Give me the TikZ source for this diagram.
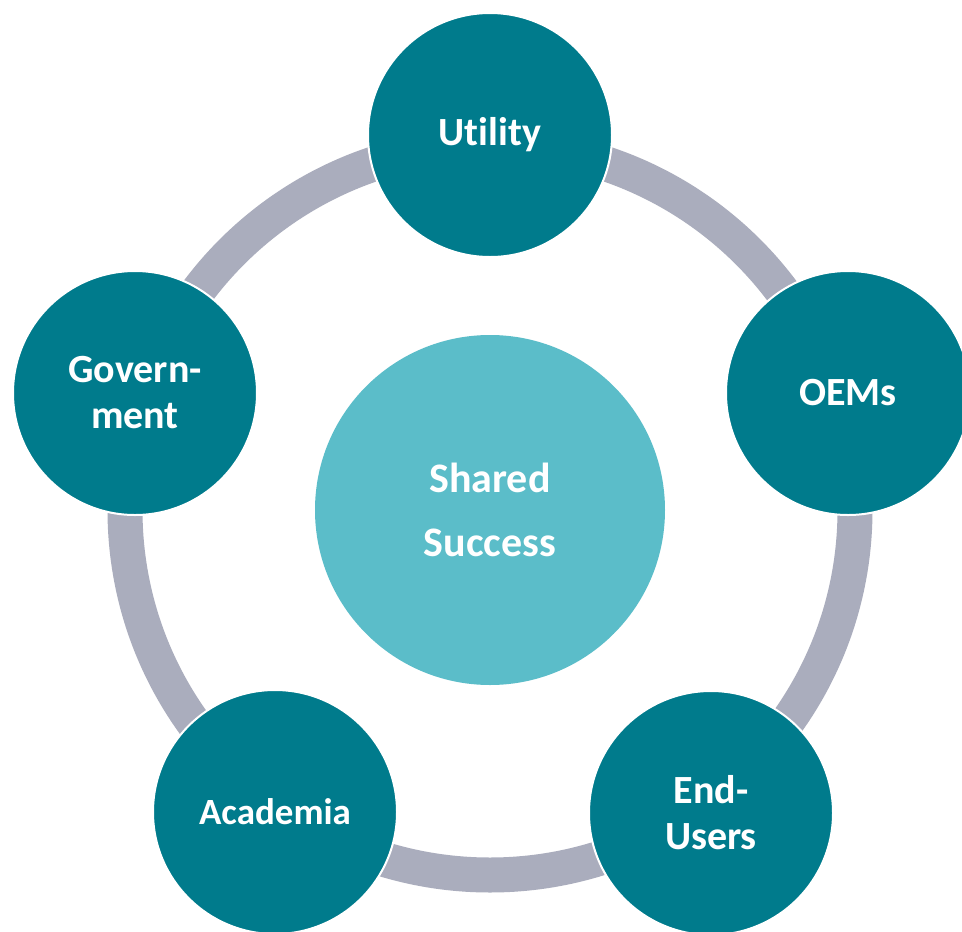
\documentclass[tikz,border=0pt]{standalone}
\usepackage{fontspec}
\setmainfont{Carlito}[Ligatures={NoCommon}]
\definecolor{tealdark}{RGB}{0,123,140}
\definecolor{tealpale}{RGB}{91,189,201}
\definecolor{ringgray}{RGB}{170,173,189}
\tikzset{
  outer/.style={circle, fill=tealdark, draw=white, line width=2pt, minimum size=244pt,
    inner sep=0pt, text=white, align=center, font=\bfseries\fontsize{40}{46}\selectfont},
  hub/.style={circle, fill=tealpale, minimum size=350pt, inner sep=0pt, text=white,
    align=center, font=\bfseries\fontsize{42}{64}\selectfont},
  ring/.style={draw=ringgray, line width=35pt}
}
\begin{document}
\begin{tikzpicture}[x=1pt,y=-1pt]
\useasboundingbox (0,0) rectangle (962,932);
\fill[white] (0,0) rectangle (962,932);
\coordinate (c) at (490,510);
\draw[ring] (c) circle[radius=365pt];
\node[hub] (hub) at (c) {Shared\\Success};
\node[outer] (util) at (490,135) {Utility};
\node[outer] (oem) at (848,393) {OEMs};
\node[outer] (end) at (711,813) {End-\\Users};
\node[outer, font=\bfseries\fontsize{37}{42}\selectfont] (acad) at (275,812) {Academia};
\node[outer] (gov) at (135,393) {Govern-\\ment};
\end{tikzpicture}
\end{document}
